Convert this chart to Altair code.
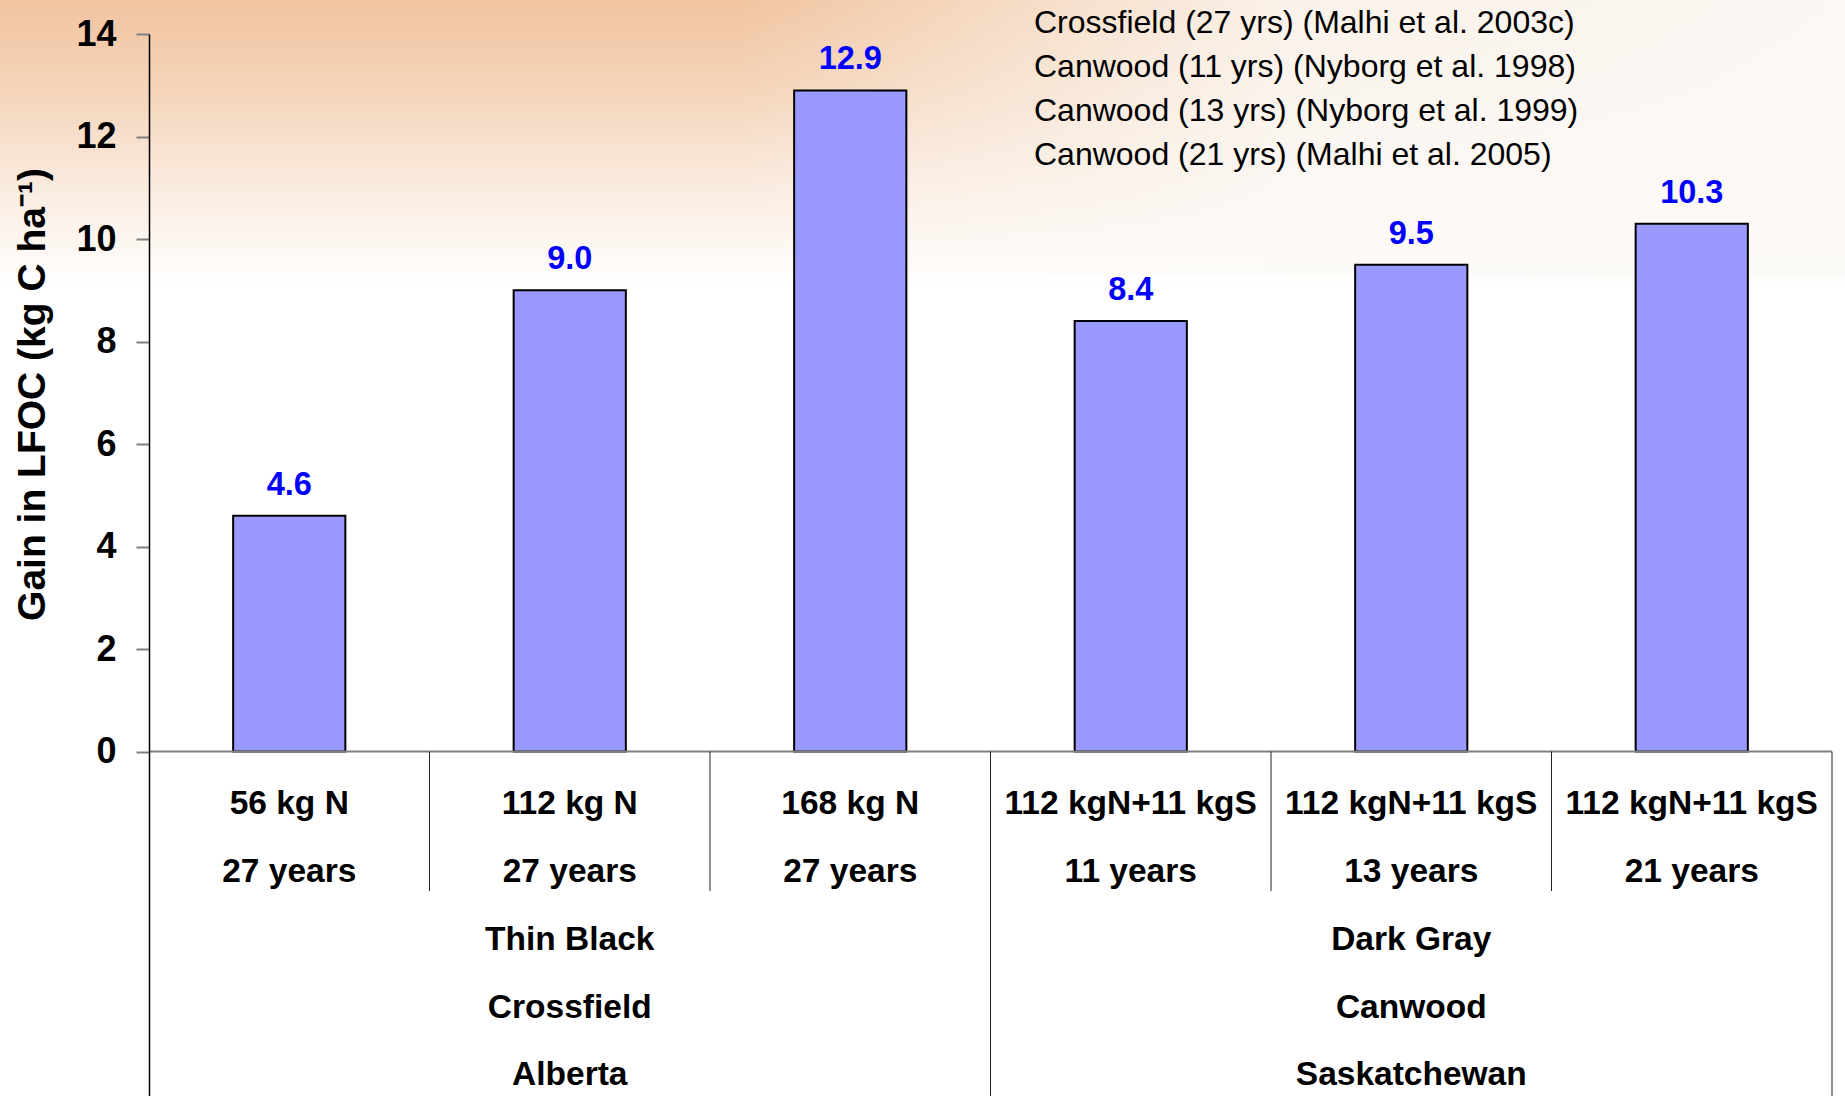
import altair as alt
import pandas as pd

# ---- data -------------------------------------------------------------
treatments = ["56 kg N", "112 kg N", "168 kg N",
              "112 kgN+11 kgS", "112 kgN+11 kgS", "112 kgN+11 kgS"]
durations = ["27 years", "27 years", "27 years",
             "11 years", "13 years", "21 years"]
gains = [4.6, 9.0, 12.9, 8.4, 9.5, 10.3]

group_labels = [["Thin Black", "Crossfield", "Alberta"],
                ["Dark Gray", "Canwood", "Saskatchewan"]]
group_middle = [1, 4]          # category sitting under each group name
inner_dividers = [1, 2, 4, 5]  # boundaries between categories of one group
group_dividers = [3, 6]        # boundaries closing each group

citations = [
    "Crossfield (27 yrs) (Malhi et al. 2003c)",
    "Canwood (11 yrs) (Nyborg et al. 1998)",
    "Canwood (13 yrs) (Nyborg et al. 1999)",
    "Canwood (21 yrs) (Malhi et al. 2005)",
]
y_ticks = [0, 2, 4, 6, 8, 10, 12, 14]

# ---- layout -----------------------------------------------------------
W, H = 1683, 1062
Y_DOMAIN = [-6.72, 14]
FONT = "Liberation Sans"

keys = [f"{t} | {d}" for t, d in zip(treatments, durations)]
bars = pd.DataFrame({
    "key": keys,
    "gain": gains,
    "label": [f"{g:.1f}" for g in gains],
    "cat_text": [f"{t}\n{d}" for t, d in zip(treatments, durations)],
})
groups = pd.DataFrame({
    "key": [keys[i] for i in group_middle],
    "text": ["\n".join(g) for g in group_labels],
})
inner = pd.DataFrame({"pos": inner_dividers})
outer = pd.DataFrame({"pos": group_dividers})
notes = pd.DataFrame({"text": ["\n".join(citations)]})
one = pd.DataFrame({"k": [0]})

x_band = alt.X("key:N", sort=keys, axis=None,
               scale=alt.Scale(paddingInner=0.6, paddingOuter=0.3))
x_lin = alt.X("pos:Q", axis=None,
              scale=alt.Scale(domain=[0, 6], nice=False, zero=False))
y_scale = alt.Scale(domain=Y_DOMAIN, nice=False, zero=False)

y_axis = alt.Axis(
    values=y_ticks, grid=False, zindex=2,
    labelFontSize=36, labelFontWeight="bold", labelColor="black",
    labelFont=FONT, labelPadding=20,
    tickSize=13, tickColor="#808080", tickWidth=2,
    domainColor="black", domainWidth=1.5,
    title="Gain in LFOC (kg C ha⁻¹)", titleFont=FONT,
    titleFontSize=39, titleFontWeight="bold", titleColor="black",
    titleAngle=270, titleAlign="center", titleBaseline="alphabetic",
    titleX=-105, titleY=360,
)

# warm backdrop fading to white
backdrop = alt.Chart(one).mark_rect(
    color=alt.LinearGradient(
        gradient="linear", x1=0, y1=0, x2=0, y2=1,
        stops=[alt.GradientStop(color="#F1C4A0", offset=0),
               alt.GradientStop(color="#F4D4B9", offset=0.08),
               alt.GradientStop(color="#FAEBDF", offset=0.17),
               alt.GradientStop(color="#FFFFFF", offset=0.26),
               alt.GradientStop(color="#FFFFFF", offset=1)])
).encode(x=alt.value(-149), x2=alt.value(W + 13),
         y=alt.value(-34), y2=alt.value(H))

haze = alt.Chart(one).mark_rect(
    color=alt.LinearGradient(
        gradient="linear", x1=0, y1=0, x2=1, y2=0,
        stops=[alt.GradientStop(color="rgba(252,250,247,0)", offset=0),
               alt.GradientStop(color="rgba(252,250,247,0)", offset=0.4),
               alt.GradientStop(color="rgba(252,250,247,0.85)", offset=0.7),
               alt.GradientStop(color="rgba(252,250,247,0.95)", offset=1)])
).encode(x=alt.value(-149), x2=alt.value(W + 13),
         y=alt.value(-34), y2=alt.value(240))

bar_layer = alt.Chart(bars).mark_bar(
    color="#9999FF", stroke="black", strokeWidth=2
).encode(x=x_band, y=alt.Y("gain:Q", scale=y_scale, axis=y_axis),
         y2=alt.datum(0))

value_labels = alt.Chart(bars).mark_text(
    dy=-21, baseline="alphabetic", fontSize=32.5, fontWeight="bold",
    color="#0000FF", font=FONT
).encode(x=x_band, y=alt.Y("gain:Q", scale=y_scale, axis=y_axis),
         text="label:N")

zero_line = alt.Chart(one).mark_rule(color="#808080", strokeWidth=2).encode(
    y=alt.datum(0, scale=y_scale, axis=y_axis))

inner_rules = alt.Chart(inner).mark_rule(color="#222222", strokeWidth=1).encode(
    x=x_lin, y=alt.datum(0, scale=y_scale, axis=y_axis), y2=alt.value(857))

outer_rules = alt.Chart(outer).mark_rule(color="#222222", strokeWidth=1).encode(
    x=x_lin, y=alt.datum(0, scale=y_scale, axis=y_axis), y2=alt.value(H))

cat_text = alt.Chart(bars).mark_text(
    lineBreak="\n", lineHeight=68, fontSize=33.5, fontWeight="bold",
    baseline="alphabetic", color="black", font=FONT
).encode(x=x_band, y=alt.value(780), text="cat_text:N")

group_text = alt.Chart(groups).mark_text(
    lineBreak="\n", lineHeight=67.5, fontSize=33.5, fontWeight="bold",
    baseline="alphabetic", color="black", font=FONT
).encode(x=x_band, y=alt.value(916), text="text:N")

note_text = alt.Chart(notes).mark_text(
    lineBreak="\n", lineHeight=44, fontSize=32, align="left",
    baseline="alphabetic", color="black", font=FONT
).encode(x=alt.value(885), y=alt.value(-1), text="text:N")

chart = alt.layer(
    backdrop, haze, bar_layer, zero_line, inner_rules, outer_rules,
    value_labels, cat_text, group_text, note_text
).resolve_scale(x="independent").properties(
    width=W, height=H, autosize="none",
    padding={"left": 149, "top": 34, "right": 13, "bottom": 0},
).configure(font=FONT).configure_view(stroke=None)

chart.save("out.html", embed_options={"renderer": "svg", "actions": False})
